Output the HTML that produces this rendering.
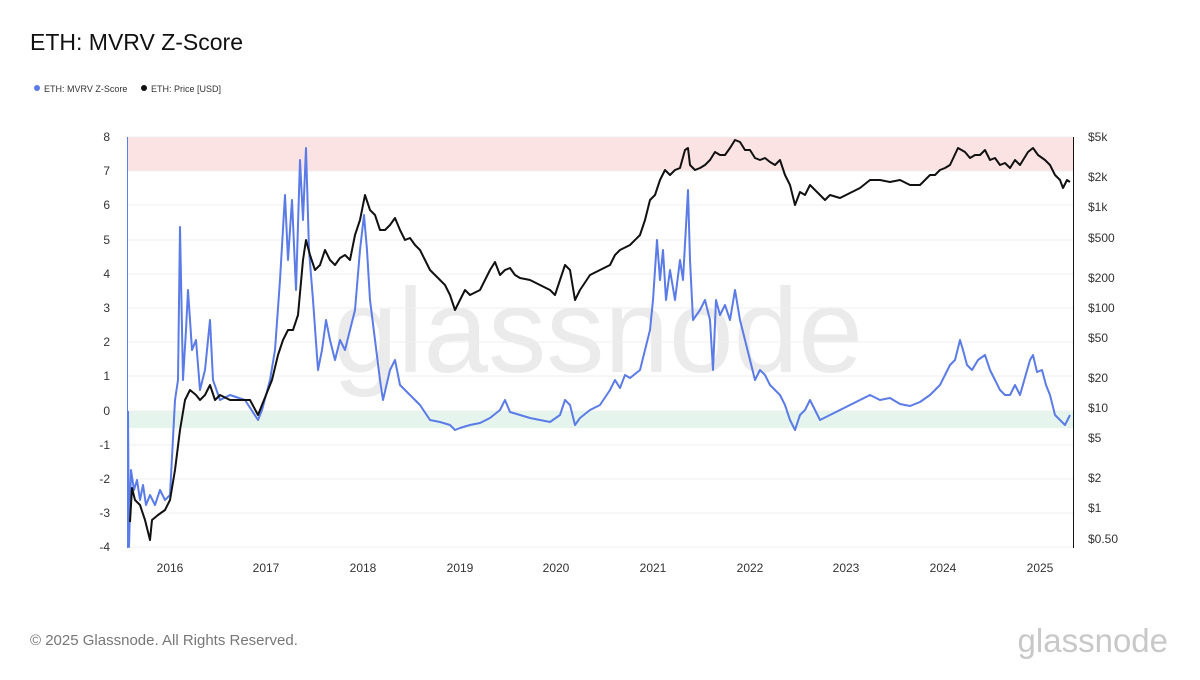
<!DOCTYPE html>
<html><head><meta charset="utf-8"><style>
html,body{margin:0;padding:0;background:#fff;}
body{width:1200px;height:675px;overflow:hidden;font-family:"Liberation Sans",sans-serif;}
</style></head><body>
<svg width="1200" height="675" viewBox="0 0 1200 675" xmlns="http://www.w3.org/2000/svg" font-family="Liberation Sans, sans-serif">
<text x="30" y="50" font-size="23" fill="#111">ETH: MVRV Z-Score</text>
<circle cx="37" cy="88" r="3" fill="#5b7be6"/><text x="44" y="92" font-size="9" fill="#333">ETH: MVRV Z-Score</text>
<circle cx="144" cy="88" r="3" fill="#111"/><text x="151" y="92" font-size="9" fill="#333">ETH: Price [USD]</text>
<text x="598" y="372" font-size="120" fill="#ebebeb" text-anchor="middle" textLength="530" lengthAdjust="spacingAndGlyphs">glassnode</text>
<rect x="127" y="137" width="946" height="34" fill="#fbe3e3"/>
<rect x="127" y="411" width="946" height="17" fill="#e5f5ee"/>
<g stroke="#efefef" stroke-width="1">
<line x1="127" x2="1073" y1="137" y2="137"/><line x1="127" x2="1073" y1="171" y2="171"/><line x1="127" x2="1073" y1="205" y2="205"/><line x1="127" x2="1073" y1="240" y2="240"/><line x1="127" x2="1073" y1="274" y2="274"/><line x1="127" x2="1073" y1="308" y2="308"/><line x1="127" x2="1073" y1="342" y2="342"/><line x1="127" x2="1073" y1="376" y2="376"/><line x1="127" x2="1073" y1="411" y2="411"/><line x1="127" x2="1073" y1="445" y2="445"/><line x1="127" x2="1073" y1="479" y2="479"/><line x1="127" x2="1073" y1="513" y2="513"/><line x1="127" x2="1073" y1="547" y2="547"/>
</g>
<g font-size="12" fill="#333" text-anchor="end">
<text x="110" y="141">8</text><text x="110" y="175">7</text><text x="110" y="209">6</text><text x="110" y="244">5</text><text x="110" y="278">4</text><text x="110" y="312">3</text><text x="110" y="346">2</text><text x="110" y="380">1</text><text x="110" y="415">0</text><text x="110" y="449">-1</text><text x="110" y="483">-2</text><text x="110" y="517">-3</text><text x="110" y="551">-4</text>
</g>
<g font-size="12" fill="#333">
<text x="1088" y="141">$5k</text><text x="1088" y="181">$2k</text><text x="1088" y="211">$1k</text><text x="1088" y="242">$500</text><text x="1088" y="282">$200</text><text x="1088" y="312">$100</text><text x="1088" y="342">$50</text><text x="1088" y="382">$20</text><text x="1088" y="412">$10</text><text x="1088" y="442">$5</text><text x="1088" y="482">$2</text><text x="1088" y="512">$1</text><text x="1088" y="543">$0.50</text>
</g>
<g font-size="12" fill="#333" text-anchor="middle">
<text x="170" y="572">2016</text><text x="266" y="572">2017</text><text x="363" y="572">2018</text><text x="460" y="572">2019</text><text x="556" y="572">2020</text><text x="653" y="572">2021</text><text x="750" y="572">2022</text><text x="846" y="572">2023</text><text x="943" y="572">2024</text><text x="1040" y="572">2025</text>
</g>
<line x1="1073.5" x2="1073.5" y1="137" y2="548" stroke="#111" stroke-width="1"/>
<line x1="127.5" x2="127.5" y1="137" y2="548" stroke="#5b7be6" stroke-width="1"/>
<polyline fill="none" stroke="#5b7be6" stroke-width="2" stroke-linejoin="round" points="128,411 129,547 131,470 134,490 137,480 140,500 143,485 146,505 150,495 155,505 160,490 165,500 170,495 175,400 178,380 180,227 183,380 186,330 188,290 192,350 196,340 200,390 205,370 210,320 213,380 220,400 230,395 245,400 258,420 262,410 270,380 275,350 280,280 285,195 288,260 292,200 296,290 300,160 303,220 306,148 309,250 313,300 318,370 322,350 326,320 330,340 335,360 340,340 345,350 350,330 355,310 360,250 364,215 367,250 370,300 375,340 380,380 383,400 390,370 395,360 400,385 410,395 420,405 430,420 440,422 450,425 455,430 460,428 470,425 480,423 490,418 500,410 505,400 510,412 520,415 530,418 540,420 550,422 560,415 565,400 570,405 575,425 580,418 590,410 600,405 610,390 615,380 620,388 625,375 630,378 640,370 645,350 650,330 653,300 655,270 657,240 660,280 663,250 666,300 670,270 675,300 680,260 683,280 688,190 690,260 693,320 700,310 705,300 710,320 713,370 716,300 720,315 725,305 730,320 735,290 740,320 745,340 750,360 755,380 760,370 765,375 770,385 775,390 780,395 785,405 790,420 795,430 800,415 805,410 810,400 815,410 820,420 830,415 840,410 850,405 860,400 870,395 880,400 890,398 900,404 910,406 920,402 930,395 940,385 945,375 950,365 955,360 960,340 963,350 967,365 972,370 978,360 985,355 990,370 995,380 1000,390 1005,395 1010,395 1015,385 1020,395 1030,360 1033,355 1037,372 1042,370 1046,385 1050,395 1055,415 1060,420 1065,425 1070,415"/>
<polyline fill="none" stroke="#111" stroke-width="2" stroke-linejoin="round" points="130,522 132,488 135,500 140,505 145,520 150,540 152,520 158,515 165,510 170,500 175,470 180,430 185,400 190,390 196,395 200,400 205,395 210,385 215,400 220,395 230,400 240,400 250,400 258,415 262,405 266,395 272,380 278,355 283,340 288,330 293,330 298,315 303,260 306,240 310,255 315,270 320,265 325,250 330,260 335,265 340,258 345,255 350,260 355,235 360,220 365,195 370,210 375,215 380,230 385,230 390,225 395,218 400,230 405,240 410,238 415,245 420,250 425,260 430,270 435,275 440,280 445,285 450,295 455,310 460,300 465,290 470,295 480,290 490,270 495,262 500,275 505,270 510,268 515,275 520,278 530,280 540,285 550,290 555,295 560,280 565,265 570,270 575,300 580,290 590,275 600,270 610,265 615,255 620,250 630,245 640,235 645,220 650,200 655,195 660,180 665,170 670,175 675,170 680,168 685,150 688,148 690,165 695,170 700,168 705,165 710,160 715,152 720,155 725,155 730,148 735,140 740,142 745,150 750,150 755,158 760,160 765,158 770,162 775,165 780,160 785,175 790,185 795,205 800,192 805,195 810,185 815,190 820,195 825,200 830,195 840,198 850,193 860,188 870,180 880,180 890,182 900,180 910,185 920,185 930,175 935,175 940,170 945,168 950,165 958,148 965,152 970,158 975,155 980,155 985,150 990,160 995,158 1000,165 1005,163 1010,168 1015,160 1020,165 1028,152 1033,148 1038,155 1045,160 1050,165 1055,175 1060,180 1063,188 1067,180 1070,182"/>
<text x="30" y="645" font-size="15" fill="#777">© 2025 Glassnode. All Rights Reserved.</text>
<text x="1168" y="652" font-size="33" fill="#c8c8c8" text-anchor="end">glassnode</text>
</svg>
</body></html>
